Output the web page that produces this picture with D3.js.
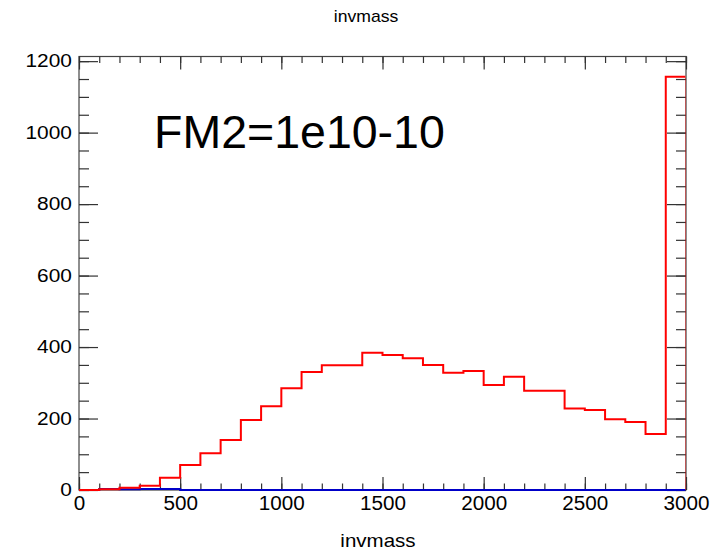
<!DOCTYPE html>
<html>
<head>
<meta charset="utf-8">
<script src="https://cdn.jsdelivr.net/npm/d3@7"></script>
<style>
  body { margin: 0; background: #fff; }
  svg { display: block; font-family: "Liberation Sans", Arial, sans-serif; }
</style>
</head>
<body>
<div id="chart"></div>
<script>
  // histogram bins of width 100 from 0 to 3000
  const binEdges = d3.range(0, 3001, 100);
  const redCounts = [0, 2, 6, 12, 34, 70, 103, 140, 196, 234, 285, 330, 349, 349, 384,
                     378, 369, 350, 328, 333, 294, 317, 278, 278, 228, 224, 198, 190, 157, 1156];
  const blueCounts = [0, 3, 2, 3, 3, 0, 0, 0, 0, 0, 0, 0, 0, 0, 0,
                      0, 0, 0, 0, 0, 0, 0, 0, 0, 0, 0, 0, 0, 0, 0];
  const xMajorTicks = [0, 500, 1000, 1500, 2000, 2500, 3000];
  const yMajorTicks = [0, 200, 400, 600, 800, 1000, 1200];
  const titleText = "invmass";
  const xTitle = "invmass";
  const noteText = "FM2=1e10-10";

  const W = 715, H = 551;
  const padL = 79, padR = 686, padT = 56.5, padB = 490;

  const svg = d3.select("#chart").append("svg")
    .attr("width", W)
    .attr("height", H);

  const x = d3.scaleLinear().domain([0, 3000]).range([padL, padR]);
  const y = d3.scaleLinear().domain([0, 1213]).range([padB, padT]);

  // keep the last bin's closing edge under the frame, let the baseline show
  svg.append("defs").append("clipPath")
    .attr("id", "plotClip")
    .append("rect")
    .attr("x", padL - 2).attr("y", padT - 2)
    .attr("width", padR - padL + 1.4).attr("height", padB - padT + 6);

  // frame
  svg.append("rect")
    .attr("x", padL).attr("y", padT)
    .attr("width", padR - padL).attr("height", padB - padT)
    .attr("fill", "none")
    .attr("stroke", "#444")
    .attr("stroke-width", 1.2);

  const tickStyle = function (g) {
    g.select(".domain").remove();
    g.selectAll(".tick line").attr("stroke", "#333").attr("stroke-width", 1.2);
  };

  // minor ticks (inward) on all four sides
  const xMinor = d3.range(0, 3001, 100);
  const yMinor = d3.range(0, 1201, 50);
  svg.append("g").attr("transform", `translate(0,${padB})`)
    .call(d3.axisBottom(x).tickValues(xMinor).tickSize(-6.5).tickFormat(""))
    .call(tickStyle);
  svg.append("g").attr("transform", `translate(0,${padT})`)
    .call(d3.axisTop(x).tickValues(xMinor).tickSize(-6.5).tickFormat(""))
    .call(tickStyle);
  svg.append("g").attr("transform", `translate(${padL},0)`)
    .call(d3.axisLeft(y).tickValues(yMinor).tickSize(-10).tickFormat(""))
    .call(tickStyle);
  svg.append("g").attr("transform", `translate(${padR},0)`)
    .call(d3.axisRight(y).tickValues(yMinor).tickSize(-10).tickFormat(""))
    .call(tickStyle);

  // major ticks + labels
  const xAxis = svg.append("g").attr("transform", `translate(0,${padB})`)
    .call(d3.axisBottom(x).tickValues(xMajorTicks).tickSize(-13).tickPadding(6).tickFormat(d3.format("d")))
    .call(tickStyle);
  xAxis.selectAll("text")
    .attr("fill", "#000")
    .attr("font-size", 19.5)
    .attr("font-family", "Liberation Sans, Arial, sans-serif")
    .attr("transform", "scale(1.06,1)");

  svg.append("g").attr("transform", `translate(0,${padT})`)
    .call(d3.axisTop(x).tickValues(xMajorTicks).tickSize(-13).tickFormat(""))
    .call(tickStyle);

  const yAxis = svg.append("g").attr("transform", `translate(${padL},0)`)
    .call(d3.axisLeft(y).tickValues(yMajorTicks).tickSize(-19).tickPadding(6).tickFormat(d3.format("d")))
    .call(tickStyle);
  yAxis.selectAll("text")
    .attr("fill", "#000")
    .attr("font-size", 17.7)
    .attr("font-family", "Liberation Sans, Arial, sans-serif")
    .attr("transform", "scale(1.18,1)");

  svg.append("g").attr("transform", `translate(${padR},0)`)
    .call(d3.axisRight(y).tickValues(yMajorTicks).tickSize(-19).tickFormat(""))
    .call(tickStyle);

  // histogram outlines as step paths
  const stepLine = function (counts) {
    const pts = [[binEdges[0], 0]];
    counts.forEach(function (c, i) {
      pts.push([binEdges[i], c]);
      pts.push([binEdges[i + 1], c]);
    });
    pts.push([binEdges[binEdges.length - 1], 0]);
    return d3.line().x(d => x(d[0])).y(d => y(d[1]))(pts);
  };

  const hist = svg.append("g").attr("clip-path", "url(#plotClip)");
  hist.append("path")
    .attr("d", stepLine(blueCounts))
    .attr("fill", "none")
    .attr("stroke", "#0000c8")
    .attr("stroke-width", 2);

  hist.append("path")
    .attr("d", stepLine(redCounts))
    .attr("fill", "none")
    .attr("stroke", "#ff0000")
    .attr("stroke-width", 2);

  // texts
  svg.append("text")
    .attr("transform", `translate(366,22) scale(1.1,1)`)
    .attr("text-anchor", "middle")
    .attr("font-size", 16)
    .text(titleText);

  svg.append("text")
    .attr("transform", `translate(378,547) scale(1.14,1)`)
    .attr("text-anchor", "middle")
    .attr("font-size", 18)
    .text(xTitle);

  svg.append("text")
    .attr("x", 154)
    .attr("y", 148)
    .attr("font-size", 46.5)
    .text(noteText);
</script>
</body>
</html>
